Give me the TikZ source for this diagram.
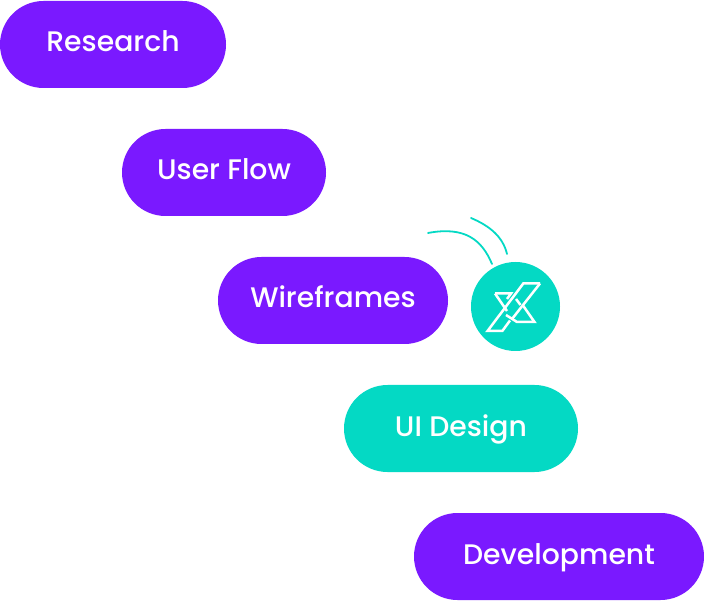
\documentclass[tikz,border=0pt]{standalone}
\usepackage{fontspec}
\setmainfont{Poppins}[UprightFont=* Medium]
\usetikzlibrary{shapes.misc}
\definecolor{pillviolet}{HTML}{7A19FF}
\definecolor{pillteal}{HTML}{04D9C4}
\tikzset{
  pill/.style={rounded rectangle, fill=#1, text=white, inner sep=0pt, minimum height=87,
    text height=15, text depth=0, font=\fontsize{28.3}{28.3}\selectfont},
  swoosh/.style={draw=pillteal, line width=1.8, line cap=round},
  logoline/.style={draw=white, line width=2.5, line join=miter}
}
\begin{document}
\begin{tikzpicture}[x=1pt,y=-1pt]
\useasboundingbox (0,0) rectangle (704,601);
\node[pill=pillviolet, minimum width=226] (research) at (113,44.5) {Research};
\node[pill=pillviolet, minimum width=204] (userflow) at (224,172.5) {User Flow};
\node[pill=pillviolet, minimum width=230] (wireframes) at (333,300.5) {Wireframes};
\node[pill=pillteal, minimum width=234] (uidesign) at (461,428.5) {UI Design};
\node[pill=pillviolet, minimum width=290] (development) at (559,556.5) {Development};
% logo
\fill[pillteal] (515.5,306.5) circle (44.5);
\draw[logoline] (540,283.5) -- (523.3,283.5) -- (487.5,331) -- (502.3,331) -- (510,320.5);
\draw[logoline] (540,283.5) -- (512,319);
\draw[logoline] (495,293.5) -- (511,293.5) -- (507,299);
\draw[logoline] (495,293.5) -- (507,311);
\draw[logoline] (506,315) -- (517,322) -- (534.5,322) -- (523,305.5);
\draw[logoline] (516,299) -- (520.5,305);
% swooshes
\draw[swoosh] (428,233) .. controls (465,226) and (482,240) .. (492,264);
\draw[swoosh] (471,218) .. controls (490,226) and (503,237) .. (507,254);
\end{tikzpicture}
\end{document}
